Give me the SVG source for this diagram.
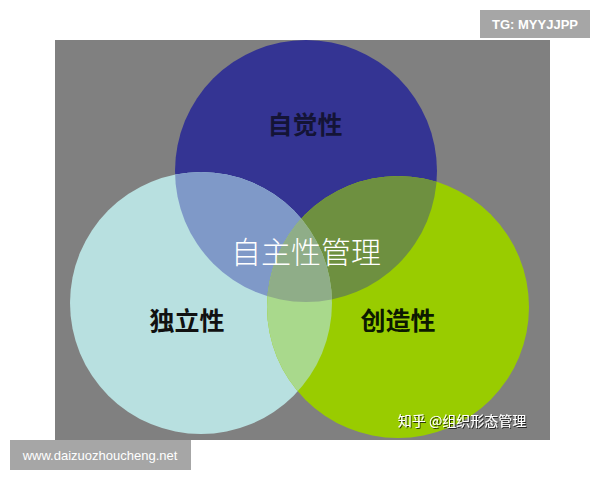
<svg xmlns="http://www.w3.org/2000/svg" width="600" height="480" viewBox="0 0 600 480">
<defs>
<style>
.cjk{font-family:"Noto Sans CJK SC","Noto Sans",sans-serif}
.lbl{font-size:25px;font-weight:bold;text-anchor:middle}
.wm{font-family:"Liberation Sans","DejaVu Sans",sans-serif;fill:#ffffff;font-size:13px}
</style>
<clipPath id="cB"><circle cx="306" cy="171" r="131"/></clipPath>
<clipPath id="cC"><circle cx="201" cy="303" r="131"/></clipPath>
<clipPath id="cG"><circle cx="398" cy="307" r="131"/></clipPath>
<filter id="sh" x="-10%" y="-30%" width="120%" height="160%"><feDropShadow dx="1" dy="1" stdDeviation="0.6" flood-color="#000" flood-opacity="0.7"/></filter>
</defs>
<rect width="600" height="480" fill="#ffffff"/>
<rect x="55" y="40" width="495" height="400" fill="#808080"/>
<g id="circles">
<circle cx="306" cy="171" r="131" fill="#343493"/>
<circle cx="201" cy="303" r="131" fill="#b8e0e0"/>
<circle cx="398" cy="307" r="131" fill="#99cc00"/>
<g clip-path="url(#cB)"><circle cx="201" cy="303" r="131" fill="#7f99c8"/></g>
<g clip-path="url(#cB)"><circle cx="398" cy="307" r="131" fill="#6e9040"/></g>
<g clip-path="url(#cC)"><circle cx="398" cy="307" r="131" fill="#a9d98c"/></g>
<g clip-path="url(#cB)"><g clip-path="url(#cC)"><circle cx="398" cy="307" r="131" fill="#8fad88"/></g></g>
</g>
<g id="node-top"><text class="cjk lbl" x="305" y="134" fill="#141436">自觉性</text></g>
<g id="node-left"><text class="cjk lbl" x="187" y="330" fill="#111111">独立性</text></g>
<g id="node-right"><text class="cjk lbl" x="398" y="330" fill="#0c1a00">创造性</text></g>
<g id="node-center"><text class="cjk" x="306" y="263" font-size="30" font-weight="300" fill="#ffffff" text-anchor="middle">自主性管理</text></g>
<g id="credit"><text class="cjk" x="462" y="426" font-size="14" fill="#ffffff" text-anchor="middle" filter="url(#sh)">知乎 @组织形态管理</text></g>
<g id="wm-top"><rect x="480" y="10" width="110" height="28" fill="#a6a6a6"/><text class="wm" x="535" y="29" text-anchor="middle" font-weight="bold">TG: MYYJJPP</text></g>
<g id="wm-bottom"><rect x="10" y="440" width="181" height="30" fill="#a6a6a6"/><text class="wm" x="100" y="460" text-anchor="middle">www.daizuozhoucheng.net</text></g>
</svg>
